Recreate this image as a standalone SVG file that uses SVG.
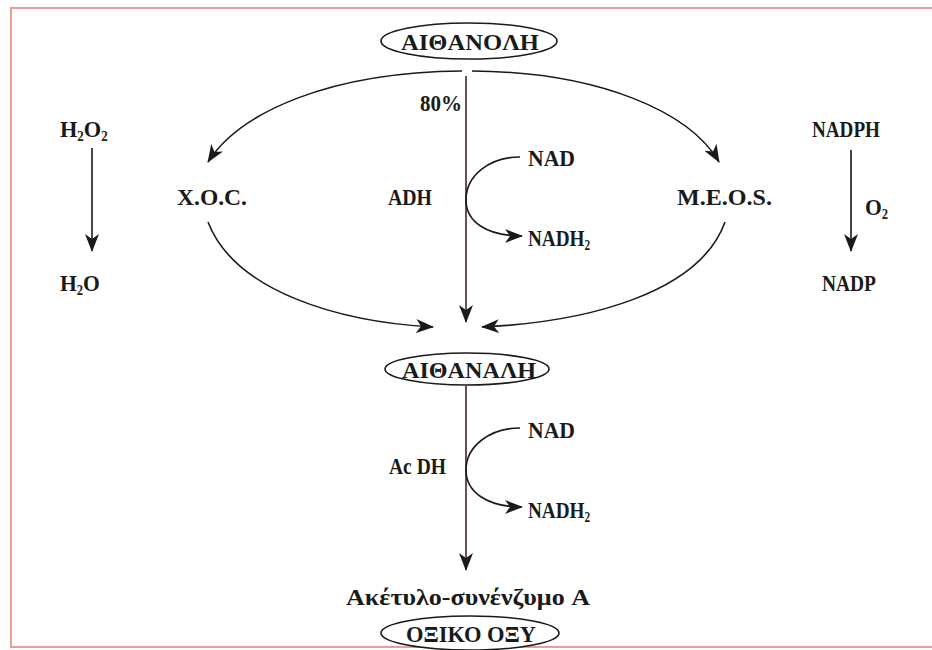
<svg xmlns="http://www.w3.org/2000/svg" width="932" height="650" viewBox="0 0 932 650">
<defs>
<marker id="ah" markerUnits="userSpaceOnUse" markerWidth="18" markerHeight="14" refX="17" refY="7" orient="auto">
<path d="M0,0 L18,7 L0,14 L5,7 z" fill="#1a1a1a"/>
</marker>
<style>
.t{font-family:"Liberation Serif","Times New Roman",serif;font-weight:bold;font-size:24px;fill:#1a1a1a}
.s{font-size:14px}
.line{fill:none;stroke:#1a1a1a;stroke-width:1.6}
.vl{fill:none;stroke:#4a2222;stroke-width:1.6}
.el{fill:#fff;stroke:#1a1a1a;stroke-width:1.6}
.frame{fill:none;stroke:#eaa090;stroke-width:2}
</style>
</defs>
<rect width="932" height="650" fill="#fff"/>
<path class="frame" d="M932,8 L11,8 L11,647 L932,647"/>

<g id="connectors">
<path class="line" d="M462,71 C330,72 240,112 208,162" marker-end="url(#ah)"/>
<path class="line" d="M472,71 C600,72 690,112 719,162" marker-end="url(#ah)"/>
<path class="line" d="M208,222 C235,292 340,322 433,327" marker-end="url(#ah)"/>
<path class="line" d="M725,222 C700,292 590,322 482,327" marker-end="url(#ah)"/>
<path class="vl" d="M466,76 L466,322" marker-end="url(#ah)"/>
<path class="line" d="M520,157 C490,157 466,175 466,200 C466,222 487,236 522,236" marker-end="url(#ah)"/>
<path class="line" d="M92,148 L92,251" marker-end="url(#ah)"/>
<path class="line" d="M851,150 L851,251" marker-end="url(#ah)"/>
<path class="vl" d="M466,386 L466,570" marker-end="url(#ah)"/>
<path class="line" d="M520,428 C490,428 466,446 466,470 C466,492 487,507 522,507" marker-end="url(#ah)"/>
</g>

<g id="ethanol">
<ellipse class="el" cx="469" cy="41" rx="88" ry="18"/>
<text class="t" x="470" y="50" text-anchor="middle" font-size="28" textLength="138" lengthAdjust="spacingAndGlyphs">AIΘANOΛH</text>
</g>
<g id="pct"><text class="t" x="420" y="111" textLength="42" lengthAdjust="spacingAndGlyphs">80%</text></g>
<g id="h2o2"><text class="t" transform="translate(60,137) scale(0.93,1)">H<tspan class="s" dy="4">2</tspan><tspan dy="-4">O</tspan><tspan class="s" dy="4">2</tspan></text></g>
<g id="h2o"><text class="t" transform="translate(60,291) scale(0.9,1)">H<tspan class="s" dy="4">2</tspan><tspan dy="-4">O</tspan></text></g>
<g id="xoc"><text class="t" x="177" y="205" textLength="70" lengthAdjust="spacingAndGlyphs">X.O.C.</text></g>
<g id="adh"><text class="t" x="388" y="205" textLength="44" lengthAdjust="spacingAndGlyphs">ADH</text></g>
<g id="meos"><text class="t" x="677" y="205" textLength="95" lengthAdjust="spacingAndGlyphs">M.E.O.S.</text></g>
<g id="nad1"><text class="t" x="528" y="166" textLength="47" lengthAdjust="spacingAndGlyphs">NAD</text></g>
<g id="nadh1"><text class="t" transform="translate(528,246) scale(0.8,1)">NADH<tspan class="s" dy="4">2</tspan></text></g>
<g id="nadph"><text class="t" x="812" y="137" textLength="68" lengthAdjust="spacingAndGlyphs">NADPH</text></g>
<g id="o2"><text class="t" transform="translate(865,215) scale(0.9,1)">O<tspan class="s" dy="4">2</tspan></text></g>
<g id="nadp"><text class="t" x="822" y="291" textLength="54" lengthAdjust="spacingAndGlyphs">NADP</text></g>

<g id="acetaldehyde">
<ellipse class="el" cx="467" cy="369" rx="82" ry="16"/>
<text class="t" x="469" y="378" text-anchor="middle" font-size="27" textLength="134" lengthAdjust="spacingAndGlyphs">AIΘANAΛH</text>
</g>
<g id="acdh"><text class="t" x="389" y="474" textLength="57" lengthAdjust="spacingAndGlyphs">Ac DH</text></g>
<g id="nad2"><text class="t" x="528" y="438" textLength="47" lengthAdjust="spacingAndGlyphs">NAD</text></g>
<g id="nadh2"><text class="t" transform="translate(528,518) scale(0.8,1)">NADH<tspan class="s" dy="4">2</tspan></text></g>
<g id="acetylcoa"><text class="t" x="346" y="605" textLength="244" lengthAdjust="spacingAndGlyphs">Ακέτυλο-συνένζυμο A</text></g>
<g id="acetic">
<ellipse class="el" cx="470" cy="633" rx="89" ry="17"/>
<text class="t" x="471" y="642" text-anchor="middle" font-size="27" textLength="130" lengthAdjust="spacingAndGlyphs">ΟΞΙΚΟ ΟΞΥ</text>
</g>
</svg>
